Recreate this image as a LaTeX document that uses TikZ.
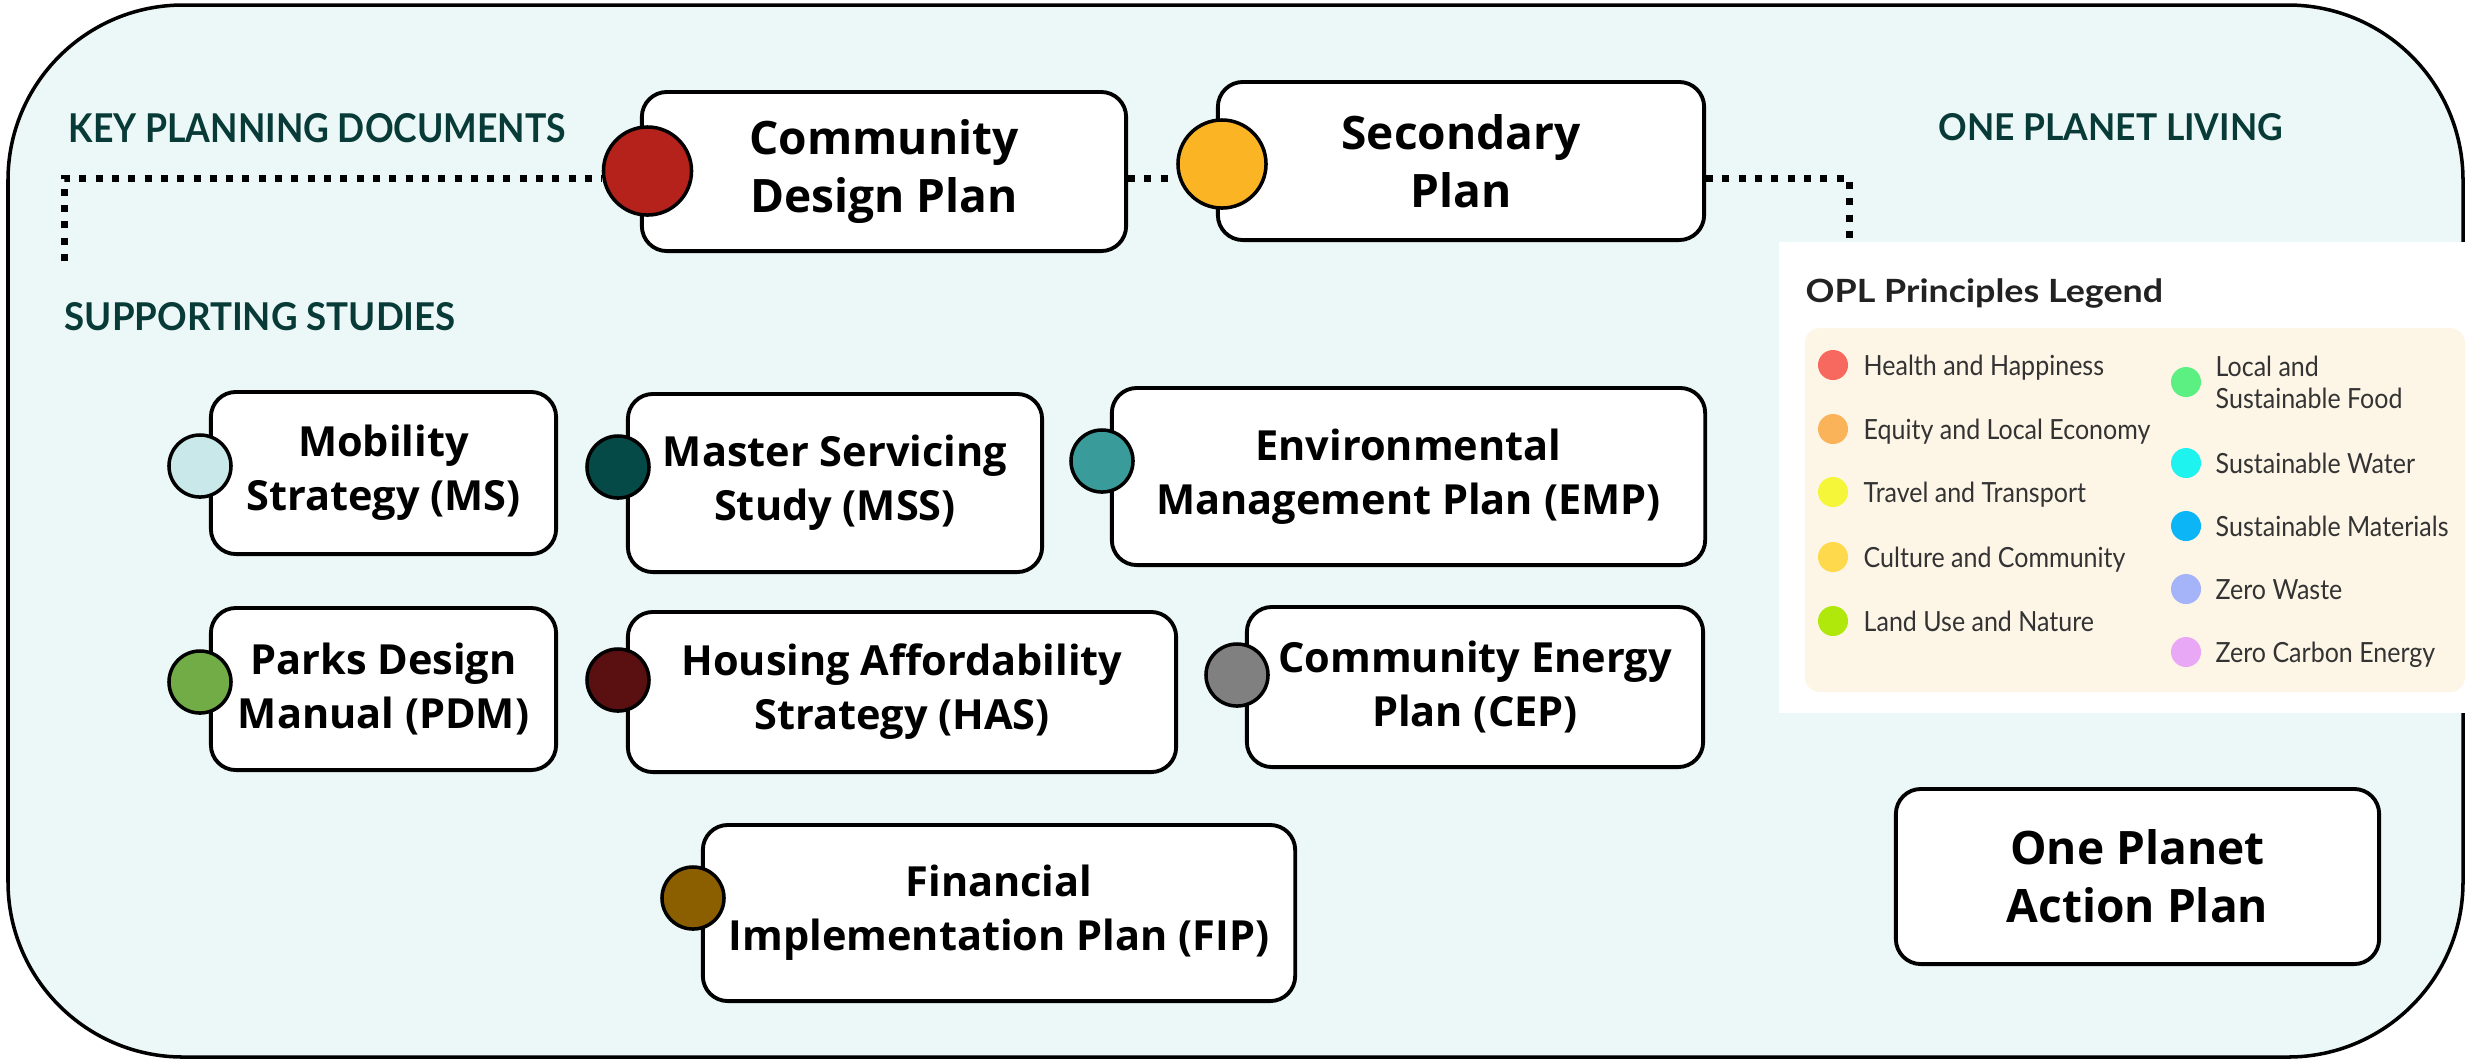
\documentclass[tikz,border=0pt]{standalone}
\usepackage{fontspec}
\usepackage{graphicx}
\setmainfont{Open Sans}
\newfontfamily\legendfont{Lato}

\definecolor{panelbg}{HTML}{ECF7F7}
\definecolor{headteal}{HTML}{083B37}
\definecolor{legcream}{HTML}{FDF5E6}
\definecolor{legtext}{HTML}{333333}
\definecolor{legtitle}{HTML}{222222}
% document markers
\definecolor{cdpred}{HTML}{B5221B}
\definecolor{spgold}{HTML}{FBB424}
\definecolor{msblue}{HTML}{C8E8EA}
\definecolor{mssteal}{HTML}{064A48}
\definecolor{empteal}{HTML}{3A9B9B}
\definecolor{pdmgreen}{HTML}{71AC47}
\definecolor{hasred}{HTML}{5A1010}
\definecolor{cepgray}{HTML}{808080}
\definecolor{fipbrown}{HTML}{8B5E00}
% principle colours
\definecolor{pA}{HTML}{F7685E}
\definecolor{pB}{HTML}{FBB35A}
\definecolor{pC}{HTML}{F5F53A}
\definecolor{pD}{HTML}{FDD94B}
\definecolor{pE}{HTML}{B0E80B}
\definecolor{pF}{HTML}{5CF083}
\definecolor{pG}{HTML}{1FF3F0}
\definecolor{pH}{HTML}{0CB6F6}
\definecolor{pI}{HTML}{A5B3F9}
\definecolor{pJ}{HTML}{E8A8F5}

% narrow setting for the legend entries
\newcommand{\legtxt}[1]{\scalebox{0.9}[1]{#1}}

\tikzset{
  docbox/.style={draw=black, line width=1.1pt, fill=white, rounded corners=0.25cm,
    align=center, inner sep=0pt, text=black},
  mainbox/.style={docbox, font=\bfseries\fontsize{13.1}{16.5}\selectfont},
  studybox/.style={docbox, font=\bfseries\fontsize{11.8}{15.4}\selectfont},
  bigdot/.style={circle, draw=black, line width=1pt, minimum size=0.88cm, inner sep=0pt},
  smalldot/.style={circle, draw=black, line width=1pt, minimum size=0.62cm, inner sep=0pt},
  linkline/.style={line width=0.07cm, dash pattern=on 0.07cm off 0.093cm},
  heading/.style={anchor=base west, inner sep=0pt, text=headteal, font=\legendfont\bfseries},
  legdot/.style={circle, minimum size=0.3cm, inner sep=0pt},
  legitem/.style={anchor=base west, inner sep=0pt, text=legtext,
    font=\legendfont\fontsize{7.9}{9.1}\selectfont}
}

\begin{document}
\begin{tikzpicture}[x=0.01cm, y=-0.01cm]
\useasboundingbox (0,0) rectangle (2469,1062);

% outer panel
\draw[line width=1pt, fill=panelbg, rounded corners=1.75cm] (8,5) rectangle (2463,1057);

% section headings
\node[heading] (hkey) at (68,142) {\resizebox{4.97cm}{0.29cm}{KEY PLANNING DOCUMENTS}};
\node[heading] (hsup) at (64,330) {\resizebox{3.91cm}{0.28cm}{SUPPORTING STUDIES}};
\node[heading] (hopl) at (1938,140) {\resizebox{3.44cm}{0.27cm}{ONE PLANET LIVING}};

% key planning documents
\node[mainbox, minimum width=4.84cm, minimum height=1.59cm] (cdp) at (884,171.5) {Community\\Design Plan};
\node[bigdot, fill=cdpred] (cdpdot) at (647.5,171) {};
\node[mainbox, minimum width=4.86cm, minimum height=1.58cm] (sp) at (1461,161) {Secondary\\Plan};
\node[bigdot, fill=spgold] (spdot) at (1222,164) {};

% supporting studies
\node[studybox, minimum width=3.45cm, minimum height=1.62cm] (ms) at (383.5,473) {Mobility\\Strategy (MS)};
\node[smalldot, fill=msblue] (msdot) at (200,466) {};
\node[studybox, minimum width=4.14cm, minimum height=1.78cm] (mss) at (835,483) {Master Servicing\\Study (MSS)};
\node[smalldot, fill=mssteal] (mssdot) at (618,467) {};
\node[studybox, minimum width=5.93cm, minimum height=1.77cm] (emp) at (1408.5,476.5) {Environmental\\Management Plan (EMP)};
\node[smalldot, fill=empteal] (empdot) at (1102,461) {};
\node[studybox, minimum width=3.45cm, minimum height=1.62cm] (pdm) at (383.5,689) {Parks Design\\Manual (PDM)};
\node[smalldot, fill=pdmgreen] (pdmdot) at (200,682) {};
\node[studybox, minimum width=5.48cm, minimum height=1.60cm] (has) at (902,692) {Housing Affordability\\Strategy (HAS)};
\node[smalldot, fill=hasred] (hasdot) at (618,680) {};
\node[studybox, minimum width=4.56cm, minimum height=1.60cm] (cep) at (1475,687) {Community Energy\\Plan (CEP)};
\node[smalldot, fill=cepgray] (cepdot) at (1237,675) {};
\node[studybox, minimum width=5.92cm, minimum height=1.76cm] (fip) at (999,913) {Financial\\Implementation Plan (FIP)};
\node[smalldot, fill=fipbrown] (fipdot) at (693,898) {};

% one planet living
\node[mainbox, minimum width=4.83cm, minimum height=1.75cm] (opap) at (2137.5,876.5) {One Planet\\Action Plan};

% dotted links
\coordinate (kl) at (64.5,178);
\coordinate (klb) at (64.5,261);
\coordinate (kr) at (1849,178);
\coordinate (krb) at (1849,250);
\draw[linkline] (klb) -- (kl) -- (cdpdot.west |- kl);
\draw[linkline] (cdp.east |- kl) -- (spdot.west |- kl);
\draw[linkline] (sp.east |- kl) -- (kr) -- (krb);

% principles legend
\fill[white] (1779,242) rectangle (2466,713);
\node[anchor=base west, inner sep=0pt, text=legtitle,
  font=\legendfont\bfseries\fontsize{9.1}{11}\selectfont] (legtitle) at (1805,302)
  {\scalebox{1.12}[1]{OPL Principles Legend}};
\fill[legcream, rounded corners=0.15cm] (1805,328) rectangle (2465,692);

\foreach \c/\y/\t [count=\i] in {pA/365/Health and Happiness, pB/429/Equity and Local Economy,
    pC/492/Travel and Transport, pD/557/Culture and Community, pE/621/Land Use and Nature} {
  \node[legdot, fill=\c] (ldl\i) at (1833,\y) {};
  \node[legitem] (ltl\i) at (1863,\y+10) {\legtxt{\t}};
}
\node[legdot, fill=pF] (ldr1) at (2186,382) {};
\node[legitem, anchor=west] (ltr1) at (2215,386)
  {\legtxt{\begin{tabular}{@{}l@{}}Local and\\Sustainable Food\end{tabular}}};
\foreach \c/\y/\t [count=\i from 2] in {pG/463/Sustainable Water, pH/526/Sustainable Materials,
    pI/589/Zero Waste, pJ/652/Zero Carbon Energy} {
  \node[legdot, fill=\c] (ldr\i) at (2186,\y) {};
  \node[legitem] (ltr\i) at (2215,\y+10) {\legtxt{\t}};
}
\end{tikzpicture}
\end{document}
